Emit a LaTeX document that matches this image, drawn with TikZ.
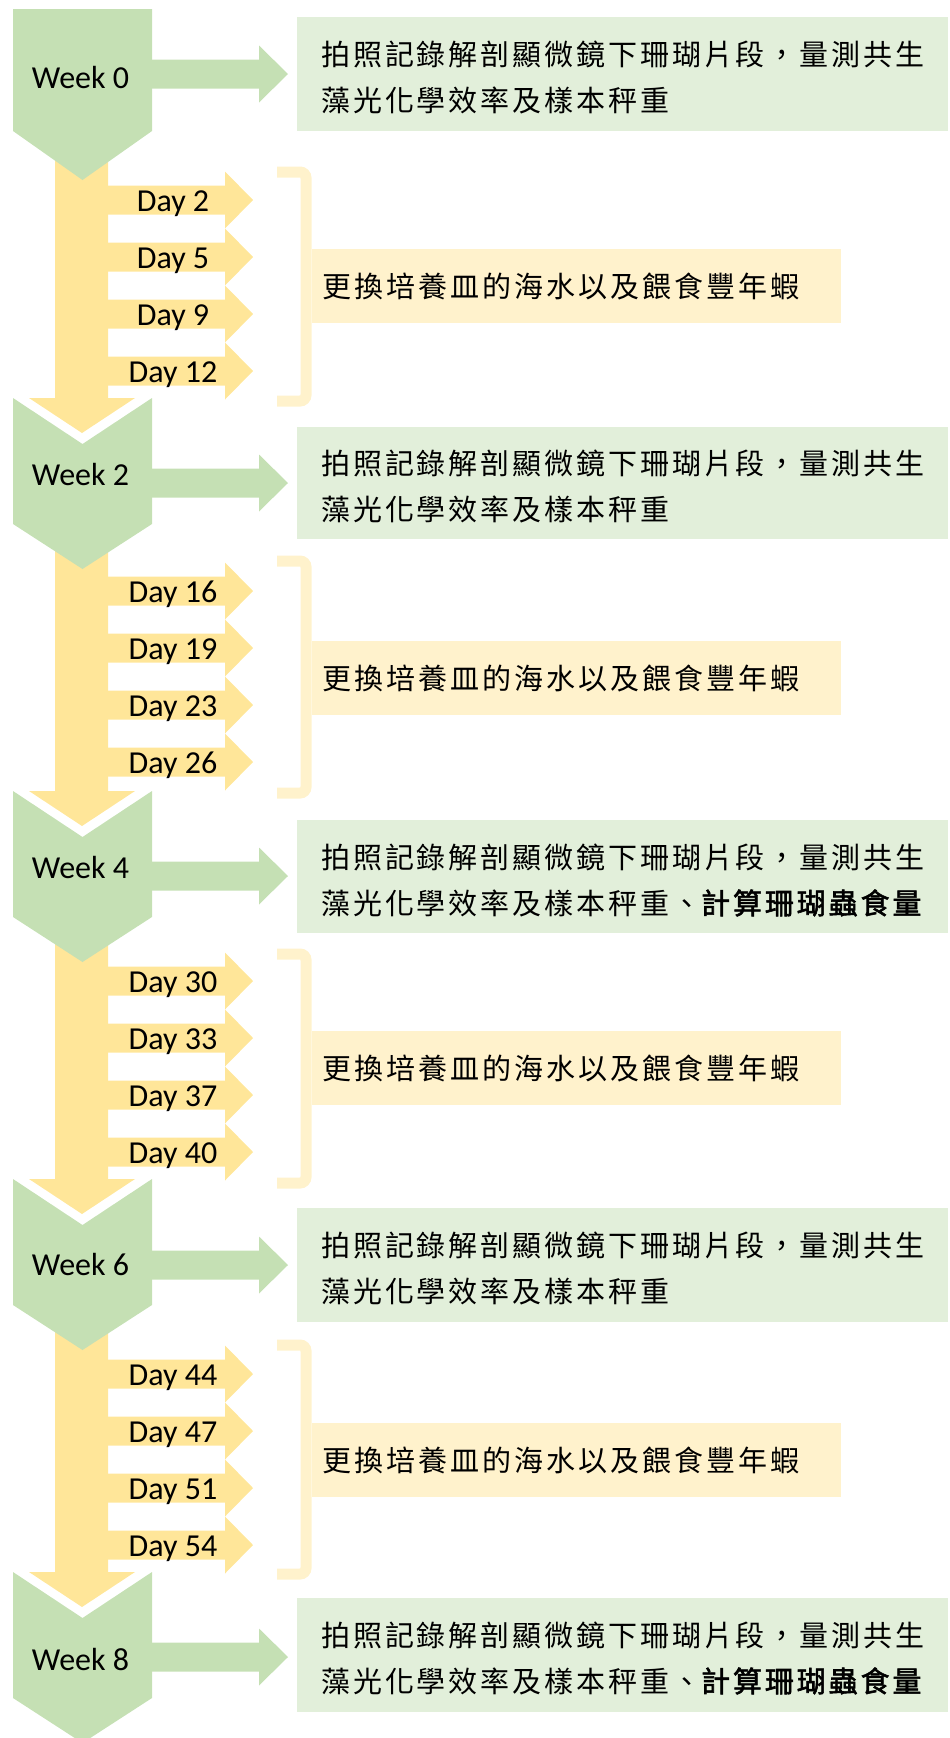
\documentclass[tikz,border=0pt]{standalone}
\usepackage{fontspec}
\setmainfont{Carlito}
\newfontfamily\cjkg[LetterSpace=10]{Noto Sans CJK TC}
\newfontfamily\cjkgb[LetterSpace=10,FakeBold=2]{Noto Sans CJK TC}
\newfontfamily\cjky[LetterSpace=10.3]{Noto Sans CJK TC}
\definecolor{wkgreen}{HTML}{C5E0B4}
\definecolor{boxgreen}{HTML}{E2EFDA}
\definecolor{dayyellow}{HTML}{FFE699}
\definecolor{boxyellow}{HTML}{FFF2CC}
\tikzset{
  wkfill/.style={fill=wkgreen},
  dayfill/.style={fill=dayyellow},
  gboxfill/.style={fill=boxgreen},
  yboxfill/.style={fill=boxyellow},
  brk/.style={draw=boxyellow, line width=11pt, rounded corners=6pt},
  weeklbl/.style={font=\fontsize{32}{38}\selectfont, inner sep=0pt, anchor=base},
  daylbl/.style={font=\fontsize{32}{38}\selectfont, inner sep=0pt, anchor=base},
  gtext/.style={font=\fontsize{29}{34}\selectfont\cjkg, inner sep=0pt, anchor=west},
  ytext/.style={font=\fontsize{29}{34}\selectfont\cjky, inner sep=0pt, anchor=west},
}
\newcommand\dayarrow[2]{%
  \path[dayfill] (100,#1-14.5) -- (225,#1-14.5) -- (225,#1-28.5) -- (253,#1)
     -- (225,#1+28.5) -- (225,#1+14.5) -- (100,#1+14.5) -- cycle;
  \node[daylbl] (day#2) at (173,#1+11) {Day #2};
}
\newcommand\chev[1]{%
  \path[wkfill] (13,#1) -- (82.5,#1+46) -- (152,#1) -- (152,#1+126)
     -- (82.5,#1+171) -- (13,#1+126) -- cycle;}
\newcommand\wkarrow[1]{%
  \path[wkfill] (140,#1-14.5) -- (259,#1-14.5) -- (259,#1-28.5) -- (288,#1)
     -- (259,#1+28.5) -- (259,#1+14.5) -- (140,#1+14.5) -- cycle;}
\newcommand\ydown[2]{%
  \path[dayfill] (55,#1) -- (108,#1) -- (108,#2) -- (135,#2) -- (82,#2+35)
     -- (29,#2) -- (55,#2) -- cycle;}
\newcommand\bracketpath[2]{%
  \draw[brk] (277,#1) -- (306,#1) -- (306,#2) -- (277,#2);}
\newcommand\lineone{拍照記錄解剖顯微鏡下珊瑚片段，量測共生}
\newcommand\linetwo{藻光化學效率及樣本秤重}
\newcommand\linetwob{藻光化學效率及樣本秤重、{\cjkgb 計算珊瑚蟲食量}}
\newcommand\ylinetext{更換培養皿的海水以及餵食豐年蝦}
\begin{document}
\begin{tikzpicture}[x=1pt,y=-1pt]
\useasboundingbox (0,0) rectangle (950,1738);
\clip (0,0) rectangle (950,1738);
% yellow down arrows
\ydown{131}{398}
\ydown{524}{791}
\ydown{917}{1179}
\ydown{1305}{1572}
% day arrows
\dayarrow{200}{2}
\dayarrow{257}{5}
\dayarrow{314}{9}
\dayarrow{371}{12}
\dayarrow{591}{16}
\dayarrow{648}{19}
\dayarrow{705}{23}
\dayarrow{762}{26}
\dayarrow{981}{30}
\dayarrow{1038}{33}
\dayarrow{1095}{37}
\dayarrow{1152}{40}
\dayarrow{1374}{44}
\dayarrow{1431}{47}
\dayarrow{1488}{51}
\dayarrow{1545}{54}
% week shapes
\path[wkfill] (13,9) -- (152,9) -- (152,131) -- (82.5,180) -- (13,131) -- cycle;
\chev{398}
\chev{791}
\chev{1179}
\chev{1572}
\wkarrow{74}
\wkarrow{483}
\wkarrow{876}
\wkarrow{1265}
\wkarrow{1657}
\node[weeklbl] (w0) at (80.5,88) {Week 0};
\node[weeklbl] (w2) at (80.5,485) {Week 2};
\node[weeklbl] (w4) at (80.5,878) {Week 4};
\node[weeklbl] (w6) at (80.5,1275) {Week 6};
\node[weeklbl] (w8) at (80.5,1670) {Week 8};
% green boxes
\path[gboxfill] (297,17) rectangle (948,131);
\path[gboxfill] (297,427) rectangle (948,539);
\path[gboxfill] (297,820) rectangle (948,933);
\path[gboxfill] (297,1208) rectangle (948,1322);
\path[gboxfill] (297,1598) rectangle (948,1712);
\node[gtext] (g0a) at (321,54) {\lineone};
\node[gtext] (g0b) at (321,100) {\linetwo};
\node[gtext] (g2a) at (321,463) {\lineone};
\node[gtext] (g2b) at (321,509) {\linetwo};
\node[gtext] (g4a) at (321,857) {\lineone};
\node[gtext] (g4b) at (321,903) {\linetwob};
\node[gtext] (g6a) at (321,1245) {\lineone};
\node[gtext] (g6b) at (321,1291) {\linetwo};
\node[gtext] (g8a) at (321,1635) {\lineone};
\node[gtext] (g8b) at (321,1681) {\linetwob};
% yellow boxes and brackets
\path[yboxfill] (312,249) rectangle (841,323);
\path[yboxfill] (312,641) rectangle (841,715);
\path[yboxfill] (312,1031) rectangle (841,1105);
\path[yboxfill] (312,1423) rectangle (841,1497);
\bracketpath{172}{401}
\bracketpath{561}{793}
\bracketpath{954}{1183}
\bracketpath{1345}{1574}
\node[ytext] (y0) at (322,286) {\ylinetext};
\node[ytext] (y2) at (322,678) {\ylinetext};
\node[ytext] (y4) at (322,1068) {\ylinetext};
\node[ytext] (y6) at (322,1460) {\ylinetext};
\end{tikzpicture}
\end{document}
